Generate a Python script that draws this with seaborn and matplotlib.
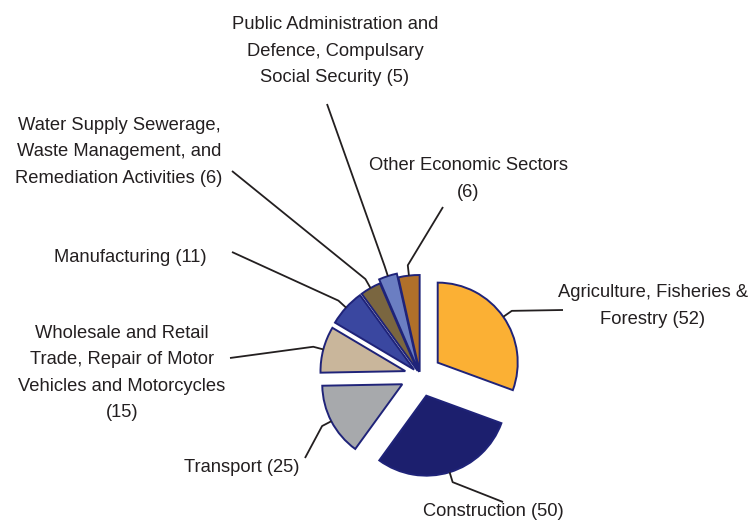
import numpy as np
import matplotlib
matplotlib.use("Agg")
import matplotlib.pyplot as plt
import seaborn as sns

# data
sectors = [
    "Agriculture, Fisheries &\nForestry",
    "Construction",
    "Transport",
    "Wholesale and Retail\nTrade, Repair of Motor\nVehicles and Motorcycles\n",
    "Manufacturing",
    "Water Supply Sewerage,\nWaste Management, and\nRemediation Activities",
    "Public Administration and\nDefence, Compulsary\nSocial Security",
    "Other Economic Sectors\n",
]
counts = [52, 50, 25, 15, 11, 6, 5, 6]
colors = ["#FBB034", "#1C1F6E", "#A7A9AC", "#C9B69B",
          "#3A47A0", "#7A6640", "#6B7EC2", "#B0702A"]

# styling / layout (pie radius = 80 px, centre at pixel 420,375)
explode = [0.27, 0.27, 0.25, 0.19, 0.10, 0.06, 0.04, 0.04]
radii = [1.0, 1.0, 1.0, 1.06, 1.15, 1.19, 1.26, 1.21]
label_xy = [(653, 306), (493, 511), (242, 468), (122, 373),
            (130, 257), (119, 152), (335, 51), (468, 179)]
line_end = [(563, 310), (503, 502), (305, 458), (230, 358),
            (232, 252), (232, 171), (327, 104), (443, 207)]

PX, CX, CY = 80.0, 420.0, 375.0


def px(x, y):
    return (x - CX) / PX, (CY - y) / PX


sns.set_style("white")
plt.rcParams["font.family"] = ["Liberation Sans", "DejaVu Sans"]

fig = plt.figure(figsize=(7.5, 5.22), dpi=100)
ax = fig.add_axes([0, 0, 1, 1])

wedges, _ = ax.pie(counts, explode=explode, colors=colors, startangle=90,
                   counterclock=False, radius=1.0,
                   wedgeprops=dict(edgecolor="#1F2379", linewidth=1.4))

for i, w in enumerate(wedges):
    w.set_radius(radii[i])
    mid = np.deg2rad((w.theta1 + w.theta2) / 2)
    cx, cy = w.center
    r = radii[i]
    sx, sy = cx + r * np.cos(mid), cy + r * np.sin(mid)
    kx, ky = sx + 0.13 * np.cos(mid), sy + 0.13 * np.sin(mid)
    ex, ey = px(*line_end[i])
    ax.plot([sx, kx, ex], [sy, ky, ey], color="#231F20", lw=1.3,
            solid_capstyle="butt")
    tx, ty = px(*label_xy[i])
    ax.text(tx, ty, f"{sectors[i]}({counts[i]})" if sectors[i].endswith("\n")
            else f"{sectors[i]} ({counts[i]})",
            ha="center", va="center", multialignment="center",
            fontsize=13.2, color="#231F20", linespacing=1.73)

ax.set_xlim(-CX / PX, (750 - CX) / PX)
ax.set_ylim(-(522 - CY) / PX, CY / PX)
ax.set_aspect("equal")
ax.axis("off")

fig.savefig("out.png", dpi=100)
